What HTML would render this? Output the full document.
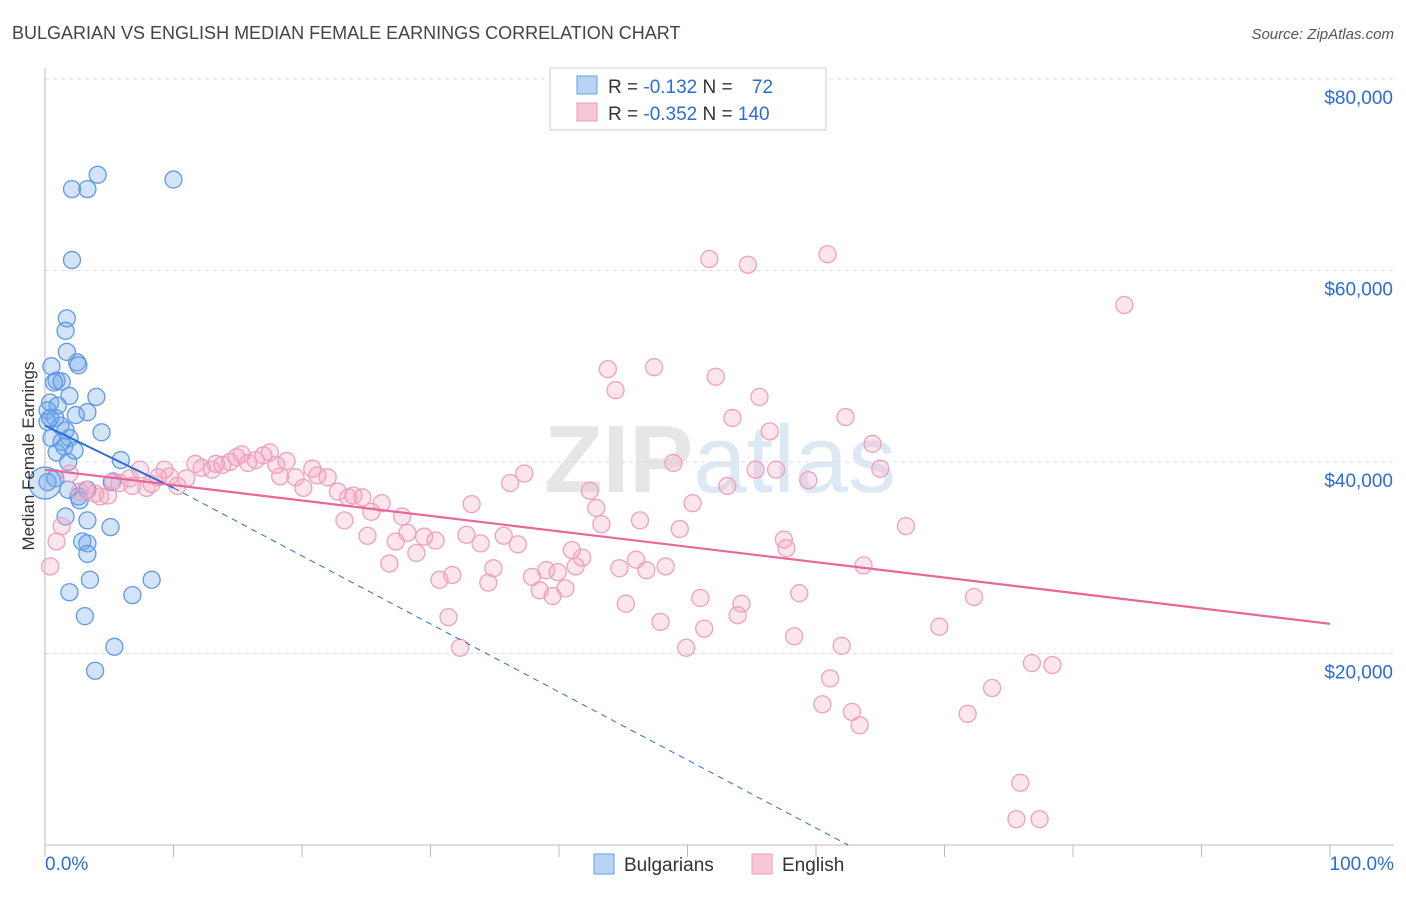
<!DOCTYPE html>
<html><head><meta charset="utf-8"><style>
body{margin:0;background:#fff;font-family:"Liberation Sans",sans-serif;}
svg text{font-family:"Liberation Sans",sans-serif;}
</style></head><body>
<svg id="chart" width="1406" height="892" xmlns="http://www.w3.org/2000/svg">
<text x="12" y="39" font-size="18" fill="#444">BULGARIAN VS ENGLISH MEDIAN FEMALE EARNINGS CORRELATION CHART</text>
<text x="1394" y="39" font-size="15" fill="#555" text-anchor="end" font-style="italic">Source: ZipAtlas.com</text>
<text x="720" y="492" font-size="96" fill="#e6e6e6" text-anchor="middle" font-family="Liberation Serif"><tspan font-weight="bold">ZIP</tspan><tspan fill="#dde8f5" font-family="Liberation Sans">atlas</tspan></text>
<g id="grid"></g>
<g id="axes"></g>
<g id="marks"></g>
<g id="lines"></g>
<text transform="translate(34,456) rotate(-90)" font-size="17" fill="#333" text-anchor="middle">Median Female Earnings</text>
<g>
<rect x="550" y="68" width="276" height="62" fill="#fff" stroke="#ccc"/>
<rect x="577" y="76" width="20" height="18" fill="#b8d4f5" stroke="#6aa0e0"/>
<rect x="577" y="103" width="20" height="18" fill="#f9c6d6" stroke="#ee9ab8"/>
<text x="608" y="93" font-size="19" fill="#333">R = <tspan fill="#2a6dd4">-0.132</tspan>   N =  <tspan fill="#2a6dd4" dx="14">72</tspan></text>
<text x="608" y="120" font-size="19" fill="#333">R = <tspan fill="#2a6dd4">-0.352</tspan>   N = <tspan fill="#2a6dd4">140</tspan></text>
</g>
<g>
<rect x="594" y="854" width="20" height="20" fill="#b8d4f5" stroke="#6aa0e0"/>
<text x="624" y="871" font-size="19" fill="#333">Bulgarians</text>
<rect x="752" y="854" width="20" height="20" fill="#f9c6d6" stroke="#ee9ab8"/>
<text x="782" y="871" font-size="19" fill="#333">English</text>
</g>
</svg>
<script>
const yTicks=[20000,40000,60000,80000];
const yTickLabels=["$20,000","$40,000","$60,000","$80,000"];
const xTickLabels=["0.0%","100.0%"];
const blueX=[2.1,3.3,4.1,10.0,2.1,1.7,1.6,1.7,2.5,2.6,0.5,0.9,1.3,0.7,1.9,4.0,0.4,0.2,3.3,2.4,0.8,0.2,1.2,1.6,4.4,0.5,1.9,1.3,2.3,0.9,1.8,5.9,0.8,0.2,1.8,2.6,2.7,3.3,1.6,3.3,5.1,2.9,3.3,3.3,1.9,3.5,8.3,6.8,3.1,5.4,3.9,0.4,1.0,1.5,5.2];
const blueY=[68.5,68.5,70.0,69.5,61.1,55.0,53.7,51.5,50.4,50.1,50.0,48.5,48.4,48.3,46.9,46.8,46.2,45.4,45.2,44.9,44.6,44.2,43.8,43.3,43.1,42.5,42.5,42.1,41.2,41.0,40.0,40.2,38.3,37.9,37.1,36.4,36.0,37.1,34.3,33.9,33.2,31.7,31.5,30.4,26.4,27.7,27.7,26.1,23.9,20.7,18.2,44.6,45.9,41.6,37.9];
const pinkX=[0.4,0.9,1.3,1.9,2.7,3.2,3.9,4.3,4.9,5.3,5.8,6.6,6.8,7.4,7.9,8.3,8.8,9.3,9.7,10.3,11.0,11.7,12.2,13.0,13.3,13.8,14.4,14.9,15.3,15.8,16.4,17.0,17.5,18.0,18.8,18.3,19.5,20.1,20.8,21.2,22.0,22.8,23.3,23.6,24.0,24.7,25.4,25.1,26.2,26.8,27.3,27.8,28.2,28.9,29.5,30.4,30.7,31.7,31.4,32.3,32.8,33.2,33.9,34.5,34.9,35.7,36.2,36.8,37.3,37.9,38.5,39.0,39.5,39.9,40.5,41.0,41.3,41.8,42.4,42.9,43.3,43.8,44.4,44.7,45.2,46.0,46.3,46.8,47.4,47.9,48.3,48.9,49.4,49.9,50.4,51.0,51.3,51.7,52.2,53.1,53.5,53.9,54.2,54.7,55.3,55.6,56.4,56.9,57.5,57.7,58.3,58.7,59.4,60.5,60.9,61.1,62.0,62.3,62.8,63.4,63.7,64.4,65.0,67.0,69.6,71.8,72.3,73.7,75.9,76.8,75.6,77.4,78.4,84.0];
const pinkY=[29.1,31.7,33.3,38.8,36.9,37.1,36.7,36.4,36.5,38.0,37.8,38.3,37.5,39.2,37.3,37.7,38.4,39.2,38.5,37.5,38.3,39.8,39.4,39.2,39.8,39.7,40.0,40.5,40.8,39.9,40.2,40.7,41.0,39.7,40.1,38.5,38.4,37.3,39.3,38.6,38.4,36.9,33.9,36.3,36.5,36.3,34.8,32.3,35.7,29.4,31.7,34.3,32.6,30.5,32.2,31.8,27.7,28.2,23.8,20.6,32.4,35.6,31.5,27.4,28.9,32.3,37.8,31.4,38.8,28.0,26.6,28.7,26.0,28.5,26.8,30.8,29.1,30.0,37.0,35.2,33.5,49.7,47.5,28.9,25.2,29.8,33.9,28.7,49.9,23.3,29.1,39.9,33.0,20.6,35.7,25.8,22.6,61.2,48.9,37.5,44.6,24.0,25.2,60.6,39.2,46.8,43.2,39.2,31.9,31.0,21.8,26.3,38.1,14.7,61.7,17.4,20.8,44.7,13.9,12.5,29.2,41.9,39.3,33.3,22.8,13.7,25.9,16.4,6.5,19.0,2.7,2.7,18.8,56.4];
const blueTrendX=[0,10,62.5];
const blueTrendY=[43.8,37.3,0];
const pinkTrendX=[0,100];
const pinkTrendY=[39.2,23.1];

const NS="http://www.w3.org/2000/svg";
const X0=45,X1=1330,Y0=845,YPER=191.5/20;
function sx(v){return X0+(X1-X0)*v/100;}
function sy(v){return Y0-v*YPER;}
function mk(tag,attrs,parent){const e=document.createElementNS(NS,tag);for(const k in attrs)e.setAttribute(k,attrs[k]);parent.appendChild(e);return e;}
const grid=document.getElementById('grid'),axes=document.getElementById('axes'),marks=document.getElementById('marks'),lines=document.getElementById('lines');
yTicks.forEach((t,i)=>{
  const l=mk('line',{x1:X0,x2:1394,y1:sy(t/1000),y2:sy(t/1000),stroke:'#ddd','stroke-dasharray':'4,4'},grid);
  
  
  const tx=mk('text',{x:1393,y:sy(t/1000)+25,'font-size':19,fill:'#2a6dd4','text-anchor':'end'},axes);
  tx.textContent=yTickLabels[i];
  
  
});
const ax=mk('line',{x1:X0,x2:1394,y1:Y0,y2:Y0,stroke:'#bbb'},axes);


const ay=mk('line',{x1:X0,x2:X0,y1:68,y2:Y0,stroke:'#bbb'},axes);


for(let i=0;i<=10;i++){
  const t=mk('line',{x1:sx(i*10),x2:sx(i*10),y1:Y0,y2:Y0+12,stroke:'#bbb'},axes);
  
  
}
[[0,'start',X0],[1,'end',1394]].forEach(([i,a,x])=>{
  const tx=mk('text',{x:x,y:870,'font-size':19,fill:'#2a6dd4','text-anchor':a},axes);
  tx.textContent=xTickLabels[i];
  
  
});
blueX.forEach((v,i)=>{
  const c=mk('circle',{cx:sx(v),cy:sy(blueY[i]),r:8.5,fill:'rgba(110,165,235,0.3)',stroke:'#5f9ae6','stroke-width':1.3},marks);
  
  
});
const big=mk('circle',{cx:sx(0),cy:sy(37.8),r:16,fill:'rgba(110,165,235,0.3)',stroke:'#5f9ae6','stroke-width':1.3},marks);


pinkX.forEach((v,i)=>{
  const c=mk('circle',{cx:sx(v),cy:sy(pinkY[i]),r:8.5,fill:'rgba(245,160,190,0.28)',stroke:'#f0a0bd','stroke-width':1.3},marks);
  
  
});
const bl=mk('line',{x1:sx(blueTrendX[0]),y1:sy(blueTrendY[0]),x2:sx(blueTrendX[1]),y2:sy(blueTrendY[1]),stroke:'#2a6dd4','stroke-width':2},lines);


const bd=mk('line',{x1:sx(blueTrendX[1]),y1:sy(blueTrendY[1]),x2:sx(blueTrendX[2]),y2:sy(blueTrendY[2]),stroke:'#2a6dd4','stroke-width':1,'stroke-dasharray':'6,5'},lines);


const pl=mk('line',{x1:sx(pinkTrendX[0]),y1:sy(pinkTrendY[0]),x2:sx(pinkTrendX[1]),y2:sy(pinkTrendY[1]),stroke:'#e8669a','stroke-width':2.2},lines);


</script>
</body></html>
